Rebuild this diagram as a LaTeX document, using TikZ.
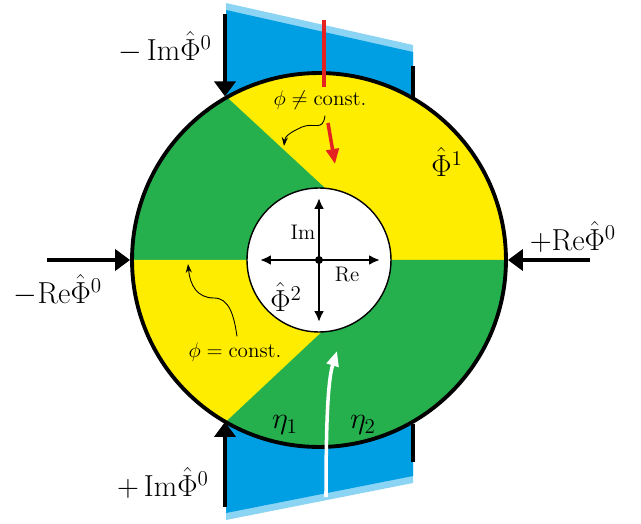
\documentclass[tikz,border=0pt]{standalone}
\usetikzlibrary{arrows.meta,positioning,calc}
\usepackage{amsmath}
\definecolor{Sky}{HTML}{009FE3}
\definecolor{Leaf}{HTML}{25B04D}
\definecolor{Sun}{HTML}{FFED00}
\definecolor{Alert}{HTML}{E42320}

\begin{document}
\begin{tikzpicture}[x=0.02cm,y=0.02cm,>=Stealth,
  push/.style={line width=2.3pt,-{Triangle[length=0.3cm,width=0.42cm]}},
  bar/.style={line width=2.3pt},
  axis/.style={line width=1.5pt,{Latex[length=0.22cm,width=0.2cm]}-{Latex[length=0.22cm,width=0.2cm]}},
  wiggle/.style={line width=0.5pt,-{Stealth[length=5pt,width=3.5pt]}},
  biglabel/.style={font=\LARGE},
  smalllabel/.style={font=\large}]
\useasboundingbox (-319,260) rectangle (322,-263);
% blue bands behind the ring, with a lighter sprayed edge
\fill[Sky!45] (-93,257) -- (94,215) -- (94,140) -- (-93,140) -- cycle;
\fill[Sky] (-93,250) -- (94,208) -- (94,140) -- (-93,140) -- cycle;
\fill[Sky!45] (-93,-260) -- (94,-223) -- (94,-140) -- (-93,-140) -- cycle;
\fill[Sky] (-93,-253) -- (94,-216) -- (94,-140) -- (-93,-140) -- cycle;
% sectors
\fill[Sun] (0,0) -- (0:187) arc[start angle=0,end angle=180,radius=187] -- cycle;
\fill[Leaf] (0,0) -- (180:187) arc[start angle=180,end angle=360,radius=187] -- cycle;
\fill[Leaf] (0,0) -- (180:187) arc[start angle=180,end angle=119.5,radius=187] -- (85:72) -- cycle;
\fill[Sun] (0,0) -- (180:187) arc[start angle=180,end angle=240,radius=187] -- (272:72) -- cycle;
% ring and hole
\node[circle,draw,line width=2.2pt,inner sep=0pt,minimum size=7.48cm] (ring) at (0,0) {};
\node[circle,draw,fill=white,line width=0.8pt,inner sep=0pt,minimum size=2.88cm] (hole) at (0,0) {};
\node[circle,fill=black,inner sep=0pt,minimum size=0.16cm] (origin) at (0,0) {};
\coordinate (reW) at (-59,0);
\coordinate (reE) at (61,0);
\coordinate (imN) at (0,62);
\coordinate (imS) at (0,-62);
\draw[axis] (reW) -- (reE);
\draw[axis] (imS) -- (imN);
\node[smalllabel] (imlab) at (-16,28) {Im};
\node[smalllabel] (relab) at (28,-15) {Re};
\node[biglabel] (phitwo) at (-33,-37) {$\hat\Phi^2$};
% boundary arrows
\coordinate (pushNW) at (-94,246);
\coordinate (pushSW) at (-94,-247);
\coordinate (pushW) at (-272,0);
\coordinate (pushE) at (271,0);
\coordinate (barNE) at (94,194);
\coordinate (barSE) at (94,-202);
\draw[push] (pushNW) -- (pushNW |- ring.120.2);
\draw[push] (pushSW) -- (pushSW |- ring.239.8);
\draw[push] (pushW) -- (ring.west);
\draw[push] (pushE) -- (ring.east);
\draw[bar] (barNE) -- (barNE |- ring.59.8);
\draw[bar] (barSE) -- (barSE |- ring.300.2);
% labels
\node[biglabel] (minusim) at (-154,213) {$-\,\mathrm{Im}\hat\Phi^0$};
\node[biglabel] (plusim) at (-156,-223) {$+\,\mathrm{Im}\hat\Phi^0$};
\node[biglabel] (minusre) at (-261,-30) {$-\mathrm{Re}\hat\Phi^0$};
\node[biglabel] (plusre) at (254,23) {$+\mathrm{Re}\hat\Phi^0$};
\node[biglabel] (phione) at (128,98) {$\hat\Phi^1$};
\node[biglabel] (etaone) at (-34,-165) {$\eta_1$};
\node[biglabel] (etatwo) at (44,-165) {$\eta_2$};
\node[smalllabel] (noteneq) at (1,160) {$\phi\neq\text{const.}$};
\node[smalllabel] (noteeq) at (-84,-92) {$\phi=\text{const.}$};
% wavy pointers
\coordinate (neqtip) at (-35,114);
\coordinate (eqtip) at (-131,-4);
\draw[wiggle] ([xshift=0.1cm]noteneq.south) .. controls (4,128) and (-5,138) .. (-17,133)
  .. controls (-28,128) and (-34,124) .. (neqtip);
\draw[wiggle] ([xshift=0.04cm]noteeq.north) .. controls (-85,-55) and (-90,-38) .. (-105,-38)
  .. controls (-122,-38) and (-129,-25) .. (eqtip);
% red and white markers
\coordinate (redtop) at (5,240);
\coordinate (redend) at (5,173);
\coordinate (redfrom) at (9,137);
\coordinate (redto) at (16,96);
\draw[Alert,line width=1.8pt] (redtop) -- (redend);
\draw[Alert,line width=2pt,-{Triangle[length=0.3cm,width=0.25cm]}] (redfrom) -- (redto);
\coordinate (whitefrom) at (7,-237);
\coordinate (whiteto) at (18,-91);
\draw[white,line width=2pt,-{Triangle[length=0.3cm,width=0.24cm]}] (whitefrom)
  .. controls (7,-160) and (9,-120) .. (whiteto);
\end{tikzpicture}
\end{document}
